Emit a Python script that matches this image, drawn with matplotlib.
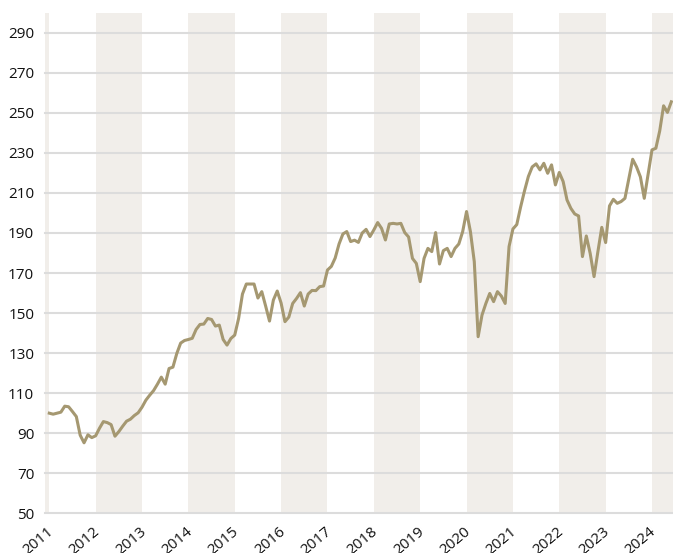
import numpy as np
import matplotlib
matplotlib.use("Agg")
import matplotlib.pyplot as plt
from matplotlib.transforms import ScaledTranslation

plt.rcParams['font.family'] = ['Open Sans', 'DejaVu Sans']

# monthly index values, Jan 2011 onwards
values = [
    100, 99.5, 100, 100.5, 103.5, 103.2, 100.8, 98.3, 89, 85.2, 89.2, 87.8,
    88.7, 92.5, 95.8, 95.3, 94.3, 88.5, 90.8, 93.5, 96, 97, 98.8, 100.2,
    103, 106.5, 109, 111.3, 114.5, 118, 114.5, 122.3, 123, 129.8, 135, 136.3,
    136.8, 137.4, 141.8, 144.3, 144.5, 147.3, 146.8, 143.5, 144, 136.8, 134, 137.3,
    139, 147.3, 159.5, 164.5, 164.5, 164.5, 157.5, 160.7, 153.5, 146, 156.5, 161,
    155, 145.7, 148, 154.8, 157.3, 160.2, 153.5, 159.5, 161.3, 161.2, 163.2, 163.5,
    171.5, 173.3, 177.5, 184.5, 189.5, 190.7, 185.7, 186.4, 185.3, 190, 191.8, 188.2,
    191.5, 195.2, 192.3, 186.5, 194.5, 194.8, 194.5, 194.8, 190.2, 188, 177.3, 174.8,
    165.7, 177.3, 182.3, 180.7, 190.2, 174.5, 181.2, 182.3, 178.2, 182.3, 184.5, 190.7,
    200.7, 190.7, 175.7, 138.2, 149, 154.8, 159.8, 155.7, 160.7, 158.5, 154.8, 183.2,
    192, 194.2, 203, 211, 218.2, 223, 224.5, 221.5, 224.8, 219.8, 224, 214,
    220.2, 215.7, 206.5, 202.3, 199.5, 198.5, 178.2, 188.5, 179.8, 168.2, 180.7, 192.8,
    185.2, 203.5, 206.8, 204.8, 205.7, 207.3, 217, 226.8, 223, 218, 207.3, 219.5,
    231.5, 232.3, 241, 253.5, 250.2, 255.5,
]
years = list(range(2011, 2025))
y_ticks = list(range(50, 300, 20))

t = 2011 + np.arange(len(values)) / 12

fig = plt.figure(figsize=(6.73, 5.53), dpi=100)
ax = fig.add_axes([45.3 / 673, 1 - 513.3 / 553, 1 - 45.3 / 673, 500.6 / 553])

# shaded bands on even years
for yr in range(2010, 2026, 2):
    ax.axvspan(yr, yr + 1, color='#f1eeea', lw=0, zorder=0)

for v in y_ticks:
    ax.axhline(v, color='#dcdcdc', lw=1.5, zorder=1, clip_on=False)

ax.plot(t, values, color='#a59871', lw=2.2, zorder=3, solid_joinstyle='round')

ax.set_xlim(2010.914, 2024.453)
ax.set_ylim(50, 300)
ax.set_yticks(y_ticks)
ax.set_xticks(years)
ax.set_xticklabels([str(y) for y in years], rotation=40, ha='right')
for s in ax.spines.values():
    s.set_visible(False)
ax.tick_params(axis='both', length=0, labelsize=11, colors='#111111')
ax.tick_params(axis='y', pad=8)
ax.tick_params(axis='x', pad=8)

off = ScaledTranslation(7 / 100, 0, fig.dpi_scale_trans)
for lab in ax.get_xticklabels():
    lab.set_transform(lab.get_transform() + off)

fig.savefig('out.png', dpi=100)
